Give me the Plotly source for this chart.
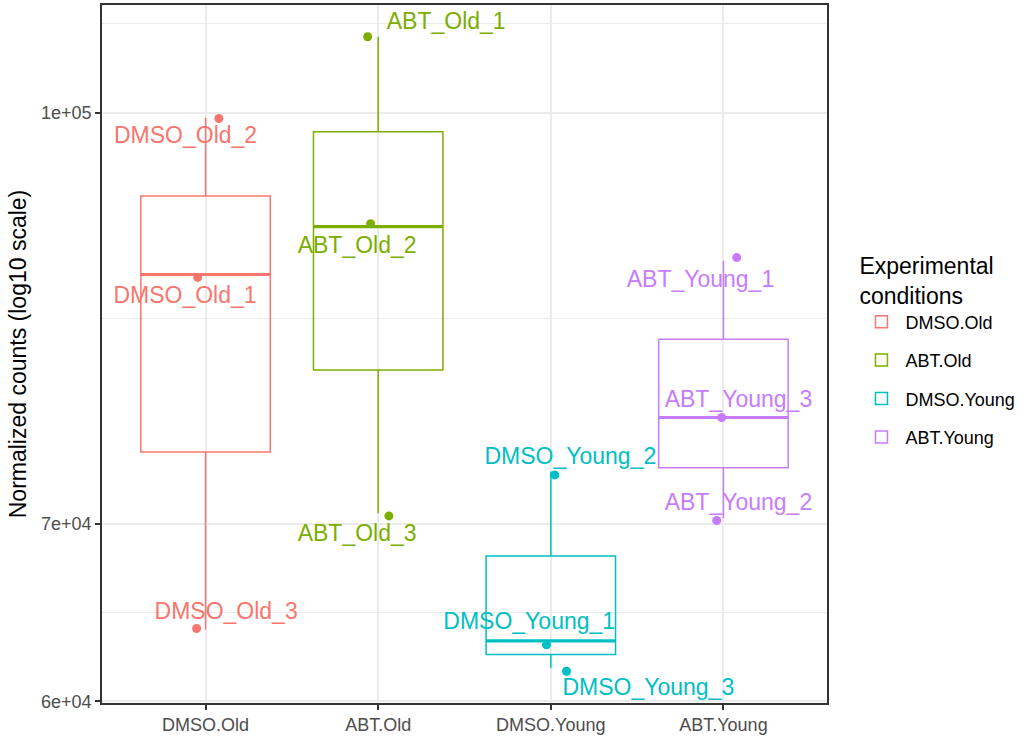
import numpy as np
import plotly.graph_objects as go

# ---------------- data ----------------
groups = ["DMSO.Old", "ABT.Old", "DMSO.Young", "ABT.Young"]
colors = ["#F8766D", "#7CAE00", "#00BFC4", "#C77CFF"]

sample_names = [
    ["DMSO_Old_1", "DMSO_Old_2", "DMSO_Old_3"],
    ["ABT_Old_1", "ABT_Old_2", "ABT_Old_3"],
    ["DMSO_Young_1", "DMSO_Young_2", "DMSO_Young_3"],
    ["ABT_Young_1", "ABT_Young_2", "ABT_Young_3"],
]
normalized_counts = [
    [86890, 99550, 63850],
    [106800, 90580, 70630],
    [63230, 73240, 61750],
    [87930, 70330, 76750],
]

y_tick_values = [6e4, 7e4, 1e5]
y_tick_labels = ["6e+04", "7e+04", "1e+05"]

# jitter of the points (x in category units, y in log10 units)
jitter_x = [[-0.046, 0.077, -0.052], [-0.061, -0.044, 0.062],
            [-0.025, 0.023, 0.091], [0.077, -0.039, -0.010]]
jitter_y = [[-0.0011, -0.0003, 0.0004], [0.0, 0.0011, -0.0010],
            [-0.0015, -0.0013, -0.0012], [0.0012, -0.0009, 0.0]]
# label offsets (repelled text), relative to category centre / true value
label_dx = [[-0.119, -0.116, 0.119], [0.394, -0.122, -0.122],
            [-0.125, 0.113, 0.565], [-0.133, 0.087, 0.087]]
label_dy = [[-0.0087, -0.0075, 0.0060], [0.0049, -0.0079, -0.0084],
            [0.0065, 0.0050, -0.0080], [-0.0078, 0.0052, 0.0060]]

FONT = "Liberation Sans, Arial, sans-serif"
BOX_W = 0.75

fig = go.Figure()

all_pt_y = []
for i, g in enumerate(groups):
    logv = np.log10(np.array(normalized_counts[i], dtype=float))
    fig.add_trace(go.Box(
        x=[i] * len(logv), y=logv, name=g, legendgroup=g,
        boxpoints=False, quartilemethod="inclusive",
        width=BOX_W, whiskerwidth=0,
        line=dict(color=colors[i], width=1.5),
        fillcolor="rgba(255,255,255,0)",
        hoverinfo="skip", showlegend=True,
    ))
    med = float(np.median(logv))
    fig.add_trace(go.Scatter(
        x=[i - BOX_W / 2, i + BOX_W / 2], y=[med, med], mode="lines",
        line=dict(color=colors[i], width=3.2), showlegend=False,
        hoverinfo="skip", legendgroup=g,
    ))

for i, g in enumerate(groups):
    logv = np.log10(np.array(normalized_counts[i], dtype=float))
    px = i + np.array(jitter_x[i])
    py = logv + np.array(jitter_y[i])
    all_pt_y.extend(py.tolist())
    fig.add_trace(go.Scatter(
        x=px, y=py, mode="markers",
        marker=dict(color=colors[i], size=9),
        showlegend=False, hoverinfo="skip", legendgroup=g,
    ))
    fig.add_trace(go.Scatter(
        x=i + np.array(label_dx[i]), y=logv + np.array(label_dy[i]),
        mode="text", text=sample_names[i], textposition="middle center",
        textfont=dict(family=FONT, size=23, color=colors[i]),
        showlegend=False, hoverinfo="skip", legendgroup=g,
    ))

lo, hi = min(all_pt_y), max(all_pt_y)
pad = 0.05 * (hi - lo)
yrange = [lo - pad, hi + pad]

major = np.log10(y_tick_values)
step = major[1] - major[0]
ext = np.concatenate([major, [major[-1] + step]])
minor_vals = ((ext[:-1] + ext[1:]) / 2).tolist()

axis_common = dict(
    showline=True, mirror=True, linecolor="#333333", linewidth=1.5,
    ticks="outside", ticklen=5, tickwidth=1.5, tickcolor="#333333",
    showgrid=True, gridcolor="#EBEBEB", gridwidth=1.5, zeroline=False,
    tickfont=dict(family=FONT, size=18, color="#4D4D4D"),
)

fig.update_layout(
    width=1029, height=738,
    margin=dict(l=102, r=202, t=3, b=35),
    plot_bgcolor="white", paper_bgcolor="white",
    font=dict(family=FONT, size=18, color="black"),
    xaxis=dict(range=[-0.6, 3.6], tickmode="array", tickvals=list(range(4)),
               ticktext=groups, **axis_common),
    yaxis=dict(range=yrange, tickmode="array", tickvals=major.tolist(),
               ticktext=y_tick_labels,
               minor=dict(tickvals=minor_vals, showgrid=True,
                          gridcolor="#EBEBEB", gridwidth=0.8, ticks=""),
               title=dict(text="Normalized counts (log10 scale)",
                          font=dict(family=FONT, size=23, color="black"),
                          standoff=8),
               **axis_common),
    legend=dict(
        title=dict(text="Experimental<br>conditions",
                   font=dict(family=FONT, size=23, color="black")),
        font=dict(family=FONT, size=18, color="black"),
        x=1.042, xanchor="left", y=0.658, yanchor="top",
        traceorder="grouped", tracegroupgap=12, itemwidth=38,
        bgcolor="rgba(0,0,0,0)",
    ),
)

fig.write_html(
    "out.html",
    config={"displayModeBar": False},
    post_script="document.body.style.margin='0px';document.body.style.overflow='hidden';",
)
